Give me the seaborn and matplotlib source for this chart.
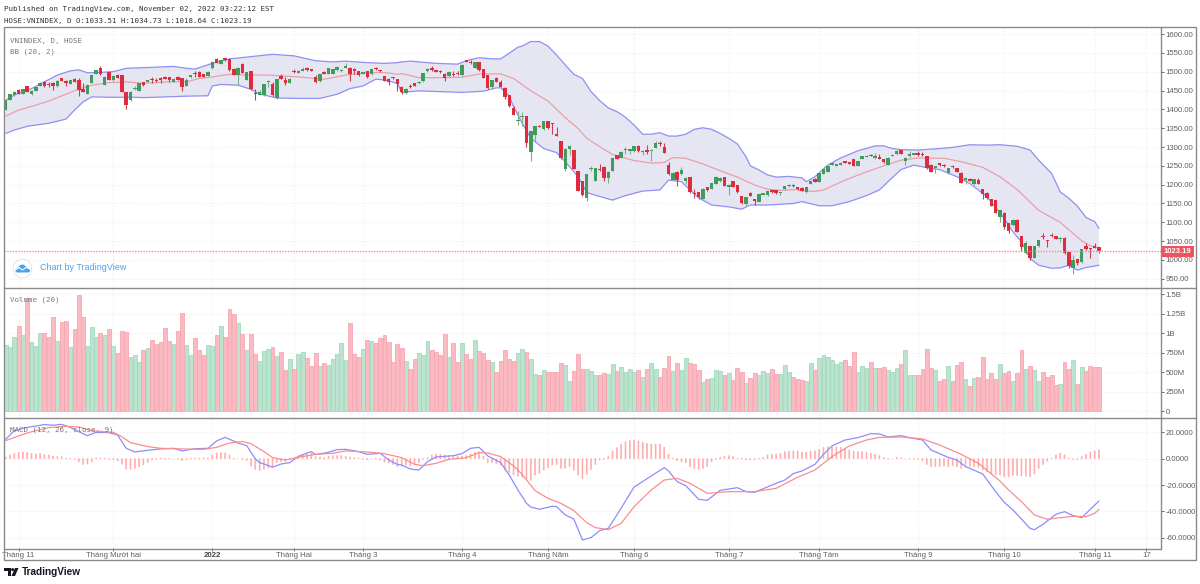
import numpy as np
import pandas as pd
import seaborn as sns
import matplotlib
matplotlib.use("Agg")
import matplotlib.pyplot as plt
from matplotlib.patches import Circle, Polygon, Rectangle

sns.set_theme(style="white")
plt.rcParams["font.family"] = ["Liberation Sans", "DejaVu Sans"]

opens = [1398,1426,1438,1451,1440,1461,1442,1450,1462,1472,
1467,1471,1462,1482,1476,1468,1481,1477,1455,1442,
1471,1495,1509,1465,1498,1478,1491,1491,1445,1425,
1453,1449,1472,1473,1479,1478,1484,1486,1486,1473,
1486,1482,1463,1485,1495,1500,1494,1489,1509,1533,
1521,1535,1533,1508,1490,1521,1478,1501,1442,1439,
1437,1473,1467,1431,1488,1479,1470,1501,1497,1502,
1511,1505,1486,1474,1500,1495,1495,1504,1501,1510,
1509,1507,1501,1495,1501,1493,1509,1504,1488,1481,
1486,1480,1460,1444,1463,1469,1469,1474,1501,1510,
1504,1503,1493,1488,1495,1496,1490,1531,1527,1511,
1525,1506,1490,1458,1484,1473,1457,1437,1404,1370,
1379,1381,1287,1333,1357,1347,1368,1362,1335,1315,
1242,1296,1292,1236,1209,1165,1241,1211,1241,1248,
1219,1237,1278,1271,1293,1290,1289,1303,1286,1290,
1289,1298,1311,1301,1253,1213,1234,1227,1211,1220,
1177,1180,1162,1193,1189,1203,1209,1220,1194,1209,
1199,1170,1149,1177,1162,1154,1173,1172,1186,1185,
1178,1188,1196,1200,1193,1191,1180,1202,1216,1208,
1229,1234,1252,1250,1252,1262,1259,1268,1250,1269,
1274,1279,1272,1273,1267,1252,1276,1281,1292,1264,
1275,1279,1283,1281,1276,1253,1243,1257,1253,1230,
1250,1244,1232,1213,1216,1201,1213,1188,1179,1161,
1158,1114,1126,1097,1092,1107,1063,1018,1036,1005,
1036,1064,1053,1066,1064,1055,1059,1021,980,1002,
994,1038,1030,1038,1033.51]

closes = [1424,1440,1447,1442,1453,1446,1450,1459,1470,1462,
1464,1462,1476,1476,1469,1478,1473,1451,1447,1465,
1491,1504,1494,1486,1479,1488,1484,1445,1412,1447,
1457,1469,1464,1478,1477,1476,1478,1481,1478,1481,
1479,1458,1479,1491,1494,1486,1486,1500,1527,1523,
1531,1530,1504,1492,1511,1497,1499,1454,1440,1446,
1467,1475,1437,1480,1481,1471,1481,1499,1503,1508,
1504,1503,1473,1494,1494,1509,1506,1513,1505,1515,
1495,1502,1490,1500,1485,1506,1506,1501,1475,1473,
1482,1467,1446,1455,1459,1463,1473,1496,1507,1504,
1499,1498,1482,1500,1492,1494,1519,1527,1522,1526,
1504,1484,1456,1478,1473,1460,1434,1409,1386,1372,
1381,1311,1342,1356,1353,1368,1350,1360,1329,1270,
1296,1303,1242,1184,1172,1228,1243,1244,1239,1219,
1234,1270,1268,1288,1296,1295,1302,1289,1290,1288,
1292,1310,1308,1285,1227,1232,1212,1238,1219,1180,
1175,1168,1189,1185,1204,1220,1219,1197,1200,1195,
1180,1150,1166,1171,1156,1175,1178,1183,1180,1177,
1180,1196,1200,1196,1188,1184,1193,1211,1207,1232,
1241,1250,1257,1255,1258,1258,1256,1250,1263,1275,
1277,1276,1274,1268,1259,1272,1280,1290,1282,1272,
1281,1284,1278,1278,1243,1234,1249,1251,1249,1243,
1246,1234,1205,1219,1210,1215,1203,1175,1164,1144,
1126,1133,1087,1078,1105,1075,1034,1044,1004,1036,
1052,1060,1051,1063,1056,1056,1018,985,999,993,
1028,1028,1028,1033,1023.19]

highs = [1426,1442,1449,1453,1454,1463,1452,1460,1472,1474,
1472,1473,1478,1484,1477,1479,1483,1482,1469,1466,
1492,1505,1516,1488,1501,1490,1493,1492,1446,1448,
1462,1470,1473,1479,1486,1483,1486,1488,1487,1482,
1488,1483,1484,1492,1502,1501,1495,1501,1528,1537,
1533,1536,1534,1509,1512,1522,1500,1502,1455,1451,
1468,1479,1473,1481,1494,1485,1482,1506,1504,1513,
1513,1506,1490,1495,1502,1510,1507,1515,1507,1522,
1513,1509,1502,1501,1502,1507,1513,1505,1489,1482,
1487,1481,1462,1456,1466,1470,1474,1497,1511,1515,
1505,1504,1496,1501,1503,1501,1520,1532,1530,1527,
1526,1507,1491,1479,1487,1479,1458,1438,1408,1396,
1394,1382,1343,1357,1358,1369,1369,1363,1352,1316,
1297,1306,1293,1237,1211,1229,1249,1245,1254,1249,
1235,1271,1279,1289,1299,1296,1303,1304,1291,1305,
1293,1317,1316,1310,1261,1233,1235,1246,1220,1221,
1188,1181,1190,1194,1205,1223,1220,1221,1201,1210,
1200,1171,1167,1181,1163,1176,1179,1184,1187,1186,
1181,1197,1201,1202,1194,1193,1194,1212,1217,1233,
1243,1251,1258,1256,1259,1263,1260,1269,1264,1276,
1278,1281,1283,1281,1268,1273,1281,1291,1293,1273,
1289,1285,1289,1287,1277,1254,1250,1258,1254,1244,
1253,1245,1233,1220,1217,1216,1218,1189,1180,1162,
1159,1134,1127,1098,1110,1108,1064,1051,1037,1037,
1053,1071,1054,1072,1065,1062,1060,1022,1013,1003,
1029,1044,1031,1044,1034.73]

lows = [1398,1424,1436,1441,1440,1445,1438,1450,1461,1458,
1458,1451,1458,1474,1462,1468,1472,1436,1445,1440,
1470,1494,1491,1465,1477,1476,1483,1445,1402,1423,
1451,1449,1463,1472,1471,1473,1471,1480,1473,1472,
1478,1449,1461,1484,1485,1485,1485,1488,1508,1522,
1520,1529,1503,1491,1465,1496,1477,1451,1426,1438,
1436,1458,1436,1427,1480,1465,1469,1497,1496,1501,
1503,1502,1471,1472,1493,1494,1494,1503,1499,1509,
1476,1494,1489,1494,1482,1492,1505,1500,1474,1464,
1481,1449,1442,1441,1456,1462,1468,1473,1500,1503,
1498,1497,1476,1487,1488,1490,1489,1526,1521,1510,
1503,1483,1455,1453,1472,1459,1427,1405,1385,1358,
1356,1301,1264,1317,1352,1346,1349,1334,1328,1267,
1235,1279,1241,1183,1171,1157,1237,1210,1236,1211,
1205,1236,1267,1270,1281,1281,1288,1288,1280,1281,
1263,1297,1303,1284,1226,1212,1196,1226,1203,1179,
1164,1161,1161,1184,1188,1202,1208,1196,1172,1194,
1179,1149,1143,1170,1146,1153,1172,1171,1179,1176,
1172,1187,1195,1195,1187,1183,1179,1201,1206,1207,
1228,1233,1251,1249,1251,1257,1255,1249,1249,1268,
1273,1275,1267,1267,1258,1251,1275,1280,1281,1252,
1274,1278,1277,1277,1242,1233,1232,1250,1248,1229,
1245,1233,1204,1203,1209,1200,1202,1161,1163,1143,
1125,1101,1082,1072,1091,1074,1025,1016,1000,1004,
1035,1057,1035,1060,1055,1049,1016,978,964,987,
992,1027,1006,1032,1018.64]

volume_m = [855,821,946,1087,976,1457,885,842,1006,1006,
958,1203,907,1143,1156,821,1049,1491,1203,838,
1075,950,1006,980,1049,842,744,1032,1010,692,
726,628,782,817,911,860,885,1062,907,864,
1027,1264,855,718,933,791,722,847,842,984,
1087,950,1311,1246,1130,997,782,989,739,640,
778,804,821,705,765,524,666,546,731,756,
679,576,748,576,615,589,675,739,872,653,
1130,731,692,795,915,898,872,937,980,890,
628,860,817,640,537,675,748,722,907,791,
761,722,989,692,881,628,881,731,666,911,
769,744,658,628,499,640,791,666,649,744,
795,765,670,481,460,533,499,507,507,623,
597,383,511,731,546,537,511,460,468,486,
481,610,511,572,499,537,507,524,434,537,
623,537,434,554,705,511,623,524,679,615,
606,533,378,408,430,533,511,468,494,395,
554,507,365,430,486,468,520,486,537,481,
481,597,499,443,408,395,387,623,529,679,
726,696,653,602,628,653,580,765,503,585,
559,636,559,559,563,524,507,554,610,791,
468,460,460,537,795,554,533,387,408,576,
383,589,636,413,318,430,443,701,413,494,
413,610,494,511,391,494,787,537,585,529,
391,503,434,464,340,344,636,546,662,344,
572,511,585,572,572]

macd_hist = [1,2.8,3.8,4.6,5.1,4.8,4,3.5,4,3,
2.8,1.8,1.5,1.5,.5,.1,-.5,-2.3,-4.3,-4,
-2.5,.5,.5,.3,-.3,-.8,-1.5,-4,-8,-8,
-7.3,-6,-4.8,-2.8,-1,-.3,.5,-.3,.3,0,
-.3,-1.5,-.5,.3,.5,.5,.5,.5,2.8,4.3,
4.6,4.3,2.8,.3,0,-.5,-1.3,-5.6,-8,-9,
-8,-7,-6,-2.8,-2.3,-2.3,-.8,-.5,1.5,3.3,
3.3,4,1.5,1.3,.8,1.8,2.3,2.3,2.3,1.8,
1.3,.8,.5,-.3,-.8,0,.3,-1,-2.5,-3.3,
-4.3,-6,-5.6,-4.8,-5.6,-4,-3,-.5,.8,2.8,
3.5,3.3,2.8,2.3,2.3,2,2,2.3,3.5,4.8,
5.3,2,-3,-2.8,-3.8,-4.8,-8.6,-10.4,-12.4,-13.2,
-14.2,-15.4,-16.5,-12.4,-11.1,-8.6,-6.6,-4.8,-4.3,-7.3,
-7.3,-6,-8.6,-12.4,-15.2,-11.9,-8.1,-4.3,-1,-.5,
1.5,5.8,8.4,10.9,12.9,13.7,14.2,13.4,12.4,11.6,
11.1,11.1,11.1,8.6,3.3,.3,-1.5,-2.3,-3,-6,
-7.3,-8.1,-7.3,-6,-2.3,-.5,1,2,2.3,1.5,
.3,-.3,-.8,-.8,-.8,.3,1,2.8,3,3.5,
4,5.3,5.8,5.8,5.8,5,5,5.8,6,7.3,
8.6,9.1,8.6,8.9,8.6,7.8,6.6,5.8,5.3,5.3,
4.8,4,3.3,2.3,1,.3,0,1,.5,0,
-.1,-.2,-.5,-1.5,-4.3,-6,-6,-6,-5.6,-6,
-5.3,-6,-7.3,-4.8,-6,-6,-6.6,-8.6,-9.9,-11.6,
-11.9,-12.4,-13.7,-13.9,-12.7,-12.7,-13.2,-13.2,-13.7,-11.6,
-7.3,-4.3,-1.8,.3,2.8,4,2.8,.3,-.5,-.8,
1.5,3.3,5,5.8,6.6]

bb_upper_bar = [0,2,6,9,12,15,17,19,22,25,28,33,39,42,44,48,52,57,62,67,72,76,79,84,88,91,
92,94,100,105,107,110,113,115,117,119,120,122,124,126,128,130,132,134,136,138,140,142,144,146,148,150,152,154,156,158,160,162,164,166,168,170,172,173,175,177,179,182,185,
186,188,191,194,198,202,204,206,208,212,216,220,224,228,231,235,238,240,243,245,247,249,251,253,254]
bb_upper = [1424,1438,1455,1473,1491,1502,1505,1497,1498,1500,1509,1511,1514,1509,1507,1522,1534,1540,1546,1542,1529,1526,1528,1524,1522,1524,
1526,1528,1522,1520,1529,1537,1534,1534,1549,1565,1568,1580,1580,1568,1544,1518,1493,1482,1447,1423,1404,1394,1379,1358,1334,1334,1338,1329,1329,1334,1347,1351,1347,1336,1323,1308,1274,1250,1239,1226,1220,1222,1218,
1208,1221,1252,1271,1290,1303,1303,1296,1293,1292,1295,1299,1306,1305,1306,1302,1292,1265,1230,1181,1164,1143,1113,1102,1084]

bb_lower_bar = [0,2,5,10,14,16,18,20,24,30,32,37,42,47,48,50,54,57,59,63,68,73,77,80,83,86,88,91,
92,96,106,111,114,115,117,118,120,122,125,128,130,133,135,137,141,144,148,152,154,157,159,161,164,168,171,173,177,183,
185,189,192,196,200,203,205,208,211,214,217,221,224,228,232,234,236,238,240,243,245,247,249,251,254]
bb_lower = [1336,1345,1355,1363,1374,1398,1420,1433,1432,1432,1431,1433,1435,1436,1462,1466,1464,1453,1441,1430,1429,1429,1440,1455,1462,1480,1478,1469,
1445,1449,1445,1448,1457,1457,1435,1407,1363,1323,1296,1285,1261,1221,1179,1172,1159,1171,1183,1186,1212,1208,1186,1165,1146,1141,1135,1146,1146,1150,
1155,1144,1144,1155,1171,1186,1208,1240,1252,1245,1240,1221,1203,1168,1110,1075,1048,1004,986,978,979,986,973,980,986]

bb_basis_bar = [0,3,7,10,14,17,20,24,28,32,38,42,45,48,52,56,61,68,74,79,84,88,91,
92,96,102,106,110,115,118,122,126,130,133,135,138,141,146,150,153,155,158,162,166,170,174,177,180,184,
185,188,190,195,200,204,208,212,218,222,227,231,235,240,245,250,252,254]
bb_basis = [1382,1398,1411,1422,1440,1454,1464,1471,1473,1469,1473,1473,1482,1486,1493,1491,1491,1486,1480,1491,1497,1498,1493,
1495,1484,1484,1485,1494,1494,1482,1449,1422,1378,1349,1323,1301,1280,1264,1257,1259,1272,1270,1255,1237,1220,1199,1188,1185,1187,
1184,1182,1186,1212,1234,1250,1265,1271,1270,1261,1246,1221,1187,1132,1100,1051,1038,1033]

macd_bar = [0,1,2,5,7,9,11,13,15,17,19,21,24,26,27,28,30,33,36,39,41,44,47,49,51,54,56,58,59,60,62,64,66,68,71,72,75,77,79,82,84,87,89,91,
92,94,96,98,100,104,106,108,110,112,115,117,119,121,122,124,127,128,130,132,134,136,138,140,142,146,150,153,154,156,158,161,163,166,170,172,174,179,181,183,
185,188,190,192,195,198,201,203,205,208,210,213,215,219,221,223,227,230,232,234,236,238,239,241,244,246,248,250,252,254]
macd_line = [14.7,18.0,21.3,23.8,24.8,25.9,25.4,26.1,23.8,20.5,17.5,20.0,19.8,18.0,12.9,7.9,5.1,6.4,7.4,7.9,5.9,7.6,7.9,13.5,16.2,11.9,9.9,-0.2,-3.0,-4.0,-6.5,-4.0,-3.0,1.8,5.4,3.1,4.9,6.9,7.1,5.4,3.3,4.1,-1.0,-4.3,
-4.8,-7.8,-8.6,-2.2,1.3,2.3,3.8,7.9,8.6,2.1,-3.0,-12.4,-23.7,-33.9,-36.7,-38.4,-36.1,-36.4,-42.7,-45.8,-61.7,-59.9,-54.6,-52.9,-42.7,-21.5,-13.1,-6.8,-9.3,-17.4,-20.5,-30.8,-31.6,-24.0,-22.0,-25.0,-25.5,-18.7,-16.2,-11.3,
-9.3,-4.3,3.3,9.7,14.2,16.0,19.0,18.8,16.5,17.5,16.0,14.2,6.6,1.0,-1.0,-6.0,-11.6,-25.0,-33.1,-38.9,-45.8,-52.9,-53.9,-49.8,-42.2,-40.2,-43.2,-44.8,-38.4,-32.1]

signal_bar = [0,3,6,10,14,17,20,25,27,29,33,36,41,46,49,52,55,57,60,62,65,68,72,76,79,84,88,92,
95,97,100,103,107,110,112,115,118,120,123,126,129,132,135,137,140,143,146,150,153,156,159,163,168,174,179,184,
188,192,196,200,203,208,213,217,222,226,231,233,236,239,242,245,248,251,253,254]
signal_line = [13.7,17.3,20.5,23.6,24.6,24.1,21.3,20.0,16.7,12.2,9.2,7.9,7.4,7.1,8.6,11.9,13.0,11.4,5.4,0.8,-1.0,1.1,3.3,4.1,5.9,5.1,3.8,0.8,
-4.3,-5.3,-3.5,-0.5,0.8,4.6,4.3,1.6,-5.5,-11.9,-24.3,-30.1,-33.9,-39.4,-48.6,-52.3,-53.9,-49.1,-36.4,-23.7,-16.2,-14.9,-18.7,-26.3,-25.0,-25.0,-22.5,-14.1,
-8.6,1.6,9.7,14.2,16.2,16.5,15.0,10.4,3.3,-3.5,-16.9,-23.7,-32.6,-42.7,-46.0,-44.8,-43.7,-44.0,-41.5,-38.4]

month_bars = [3,25,48,67,83,106,126,146,168,189,212,232,253,265]
month_labels = ["Tháng 11","Tháng Mười hai","2022","Tháng Hai","Tháng 3","Tháng 4","Tháng Năm","Tháng 6","Tháng 7","Tháng Tám","Tháng 9","Tháng 10","Tháng 11","17"]
price_ticks = [950,1000,1050,1100,1150,1200,1250,1300,1350,1400,1450,1500,1550,1600]
volume_ticks = [0,250,500,750,1000,1250,1500]
volume_tick_labels = ["0","250M","500M","750M","1B","1.25B","1.5B"]
macd_ticks = [-60,-40,-20,0,20]
last_close = closes[-1]

W, H = 1200, 584
GREEN, RED = "#3f9c5a", "#e02b3f"
GRID = "#eeeeee"
TXT = "#5f5f5f"
FRAME = "#8a8a8a"
X0, X1 = 4, 1160.5
MONO = "DejaVu Sans Mono"

fig = plt.figure(figsize=(W / 100, H / 100), dpi=100, facecolor="white")

def panel(top, bottom):
    return fig.add_axes([X0 / W, 1 - bottom / H, (X1 - X0) / W, (bottom - top) / H])

ax_p = panel(27, 287)
ax_v = panel(288, 417.5)
ax_m = panel(418, 548)

bars = np.arange(len(closes))
o, c, h, l = map(np.array, (opens, closes, highs, lows))
up = c >= o

# price panel
ax_p.fill(np.r_[bb_upper_bar, bb_lower_bar[::-1]], np.r_[bb_upper, bb_lower[::-1]],
          color="#e6e6f3", lw=0, zorder=1)
sns.lineplot(x=bb_upper_bar, y=bb_upper, ax=ax_p, color="#8f8ff4", lw=0.9, estimator=None, sort=False, zorder=2)
sns.lineplot(x=bb_lower_bar, y=bb_lower, ax=ax_p, color="#8f8ff4", lw=0.9, estimator=None, sort=False, zorder=2)
sns.lineplot(x=bb_basis_bar, y=bb_basis, ax=ax_p, color="#e8a0a8", lw=0.9, estimator=None, sort=False, zorder=2)
ax_p.vlines(bars[up], l[up], h[up], color="#7fae8c", lw=0.8, zorder=3)
ax_p.vlines(bars[~up], l[~up], h[~up], color="#c8404e", lw=0.8, zorder=3)
body = np.maximum(np.abs(c - o), 3)
ax_p.bar(bars, body, bottom=np.minimum(o, c), width=0.8,
         color=np.where(up, GREEN, RED), edgecolor="none", zorder=4)
ax_p.axhline(last_close, color="#f58d97", lw=1, ls=(0, (1, 1)), zorder=5)
ax_p.set_ylim(928.3, 1618.6)
ax_p.set_yticks(price_ticks, [f"{t:.2f}" for t in price_ticks])

# volume panel
vol_df = pd.DataFrame({"bar": bars, "volume": volume_m, "dir": np.where(up, "up", "down")})
sns.barplot(data=vol_df, x="bar", y="volume", hue="dir", ax=ax_v, native_scale=True, dodge=False,
            palette={"up": "#bbe3cf", "down": "#fbbac1"}, saturation=1, width=0.9,
            errorbar=None, legend=False, zorder=2)
for patch in ax_v.patches:
    fc = patch.get_facecolor()
    patch.set_edgecolor("#a3d9bb" if fc[1] > fc[0] else "#f6a7b1")
    patch.set_linewidth(0.6)
ax_v.set_ylim(-81, 1581)
ax_v.set_yticks(volume_ticks, volume_tick_labels)

# MACD panel
hist_df = pd.DataFrame({"bar": bars, "hist": macd_hist})
sns.barplot(data=hist_df, x="bar", y="hist", ax=ax_m, native_scale=True, color="#ffabab",
            saturation=1, width=0.2, errorbar=None, zorder=2)
for patch in ax_m.patches:
    patch.set_edgecolor("#ffabab")
    patch.set_linewidth(0.5)
    patch.set_snap(False)
sns.lineplot(x=macd_bar, y=macd_line, ax=ax_m, color="#8d8dfb", lw=0.9, estimator=None, sort=False, zorder=3)
sns.lineplot(x=signal_bar, y=signal_line, ax=ax_m, color="#fb8d8d", lw=0.9, estimator=None, sort=False, zorder=3)
ax_m.set_ylim(-67.8, 30.9)
ax_m.set_yticks(macd_ticks, [f"{t:.4f}" for t in macd_ticks])

for ax in (ax_p, ax_v, ax_m):
    ax.set_xlim(-0.39, 268.3)
    ax.set_xlabel("")
    ax.set_ylabel("")
    ax.set_facecolor("white")
    ax.yaxis.tick_right()
    ax.set_xticks(month_bars)
    ax.set_axisbelow(True)
    ax.grid(True, color=GRID, lw=0.8, ls=(0, (1, 1.5)))
    for s in ax.spines.values():
        s.set_visible(False)
    ax.tick_params(axis="y", which="major", right=True, length=2.5, width=0.7, color="#666666",
                   labelsize=5.6, labelcolor=TXT, pad=1)
    ax.tick_params(axis="x", which="major", bottom=False, labelbottom=False)

ax_m.tick_params(axis="x", bottom=True, labelbottom=True, length=2.5, width=0.7, color="#666666",
                 labelsize=5.6, labelcolor=TXT, pad=0.5)
ax_m.set_xticks(month_bars, month_labels)
for lab in ax_m.get_xticklabels():
    if lab.get_text() == "2022":
        lab.set_fontweight("bold")
        lab.set_color("#444444")

# overlay in pixels: frame, labels, logos
ov = fig.add_axes([0, 0, 1, 1], zorder=10)
ov.set_xlim(0, W)
ov.set_ylim(H, 0)
ov.axis("off")
ov.patch.set_alpha(0)
ov.add_patch(Rectangle((X0, 27), 1196 - X0, 560 - 27, fill=False, ec=FRAME, lw=1))
for yy in (287.5, 417.5):
    ov.plot([X0, 1196], [yy, yy], color=FRAME, lw=1)
ov.plot([X0, X1], [548.5, 548.5], color=FRAME, lw=1)
ov.plot([X1, X1], [27, 548.5], color=FRAME, lw=1)

ov.text(4, 9.5, "Published on TradingView.com, November 02, 2022 03:22:12 EST", family=MONO,
        fontsize=5.4, color="#333333", va="center")
ov.text(4, 20.5, "HOSE:VNINDEX, D O:1033.51 H:1034.73 L:1018.64 C:1023.19", family=MONO,
        fontsize=5.4, color="#333333", va="center")
ov.text(10, 40.5, "VNINDEX, D, HOSE", family=MONO, fontsize=5.4, color="#777777", va="center")
ov.text(10, 51.5, "BB (20, 2)", family=MONO, fontsize=5.4, color="#777777", va="center")
ov.text(10, 300, "Volume (20)", family=MONO, fontsize=5.4, color="#777777", va="center")
ov.text(10, 430, "MACD (12, 26, close, 9)", family=MONO, fontsize=5.4, color="#777777", va="center")

ov.add_patch(Rectangle((1161, 246), 32.5, 10.5, fc="#ef5362", ec="none"))
ov.text(1177.3, 251.3, f"{last_close:.2f}", color="white", fontsize=5.5, fontweight="bold",
        ha="center", va="center")

# Chart by TradingView watermark
ov.add_patch(Circle((22.5, 268.5), 9.3, fc="white", ec="#e4e4e4", lw=0.7))
ov.add_patch(Polygon([(15.5, 271.5), (15.5, 269), (18, 267.5), (20, 265), (23.5, 264.5),
                      (26, 266.5), (28.5, 268), (30, 270), (30, 271.5), (28, 272.5), (17, 272.5)],
                     fc="#4aa3f0", ec="none"))
ov.plot([15.5, 19, 22.5, 26, 30], [270, 267.5, 270, 267.5, 269], color="white", lw=0.8)
ov.text(40.5, 268, "Chart by TradingView", color="#4aa3f0", fontsize=6.5, va="center")

# TradingView logo
ov.add_patch(Polygon([(4, 568), (11, 568), (11, 576), (7.5, 576), (7.5, 571), (4, 571)], fc="#131722", ec="none"))
ov.add_patch(Circle((12.6, 569.6), 1.5, fc="#131722", ec="none"))
ov.add_patch(Polygon([(11.5, 576), (15, 568), (18.5, 568), (15, 576)], fc="#131722", ec="none"))
ov.text(22, 572, "TradingView", color="#131722", fontsize=7.2, fontweight="bold", va="center")

fig.savefig("out.png", dpi=100, facecolor="white")
